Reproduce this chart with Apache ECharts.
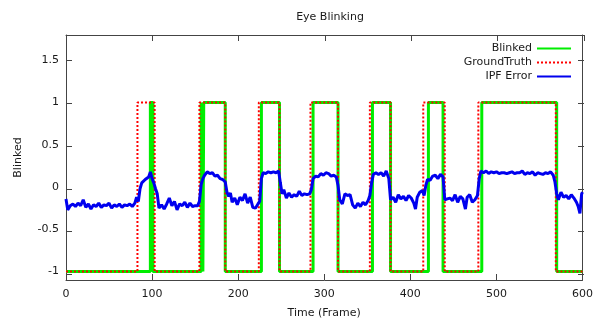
<!DOCTYPE html>
<html>
<head>
<meta charset="utf-8">
<script src="https://cdn.jsdelivr.net/npm/echarts@6/dist/echarts.min.js"></script>
<style>
html,body{margin:0;padding:0;background:#fff;}
#chart{width:596px;height:324px;}
</style>
</head>
<body>
<div id="chart"></div>
<script>
// Blinked (detector output) step transitions
var blinkedX = [0, 98, 101, 157, 159, 160, 185, 227, 248, 287, 316, 356, 377, 421, 438, 483, 570, 600];
var blinkedY = [-1, 1, -1, 1, -1, 1, -1, 1, -1, 1, -1, 1, -1, 1, -1, 1, -1, -1];
// GroundTruth step transitions
var truthX = [0, 83, 103, 155, 185, 224, 248, 284, 316, 353, 377, 415, 440, 479, 569, 600];
var truthY = [-1, 1, -1, 1, -1, 1, -1, 1, -1, 1, -1, 1, -1, 1, -1, -1];
// IPF Error
var ipfX = [0,2,5,8,11,14,17,20,23,26,29,32,35,38,41,44,47,50,53,56,59,62,65,68,71,74,77,80,
82,84,86,88,90,92,94,96,98,100,102,104,106,108,111,114,117,120,123,126,129,132,135,138,141,144,147,150,153,155,
157,159,161,164,167,170,173,176,179,182,185,187,189,191,193,196,199,202,205,208,211,214,217,220,223,225,
227,229,232,235,238,241,244,247,249,251,253,256,259,262,265,268,271,274,277,280,283,285,
287,290,293,296,299,302,305,308,311,314,316,318,321,324,327,330,333,336,339,342,345,348,351,353,
355,357,360,363,366,369,372,375,377,380,383,386,389,392,395,398,401,404,406,408,411,414,416,
418,420,423,426,429,432,435,438,440,443,446,449,452,455,458,461,464,466,469,472,475,478,
480,482,485,488,491,494,497,500,503,506,509,512,515,518,521,524,527,530,533,536,539,542,545,548,551,554,557,560,563,566,568,
570,572,575,578,581,584,587,590,593,595,597,599,600];
var ipfY = [-0.14,-0.27,-0.22,-0.20,-0.23,-0.19,-0.22,-0.15,-0.24,-0.20,-0.26,-0.21,-0.23,-0.19,-0.24,-0.21,-0.22,-0.19,-0.25,-0.21,-0.23,-0.20,-0.24,-0.21,-0.22,-0.20,-0.23,-0.19,
-0.12,-0.17,-0.02,0.05,0.04,0.09,0.08,0.12,0.18,0.10,0.05,-0.02,-0.08,-0.25,-0.21,-0.26,-0.20,-0.13,-0.22,-0.17,-0.27,-0.20,-0.22,-0.18,-0.24,-0.19,-0.23,-0.22,-0.22,-0.17,
0.03,0.10,0.14,0.18,0.16,0.17,0.13,0.14,0.10,0.09,0.06,-0.06,-0.11,-0.07,-0.18,-0.13,-0.21,-0.12,-0.16,-0.08,-0.19,-0.12,-0.24,-0.25,-0.20,-0.17,
0.10,0.17,0.16,0.18,0.17,0.18,0.17,0.19,0.05,-0.08,-0.03,-0.13,-0.07,-0.12,-0.09,-0.11,-0.05,-0.10,-0.08,-0.09,-0.08,-0.03,
0.10,0.13,0.12,0.16,0.14,0.17,0.16,0.13,0.14,0.12,0.02,-0.15,-0.20,-0.08,-0.10,-0.09,-0.21,-0.25,-0.19,-0.23,-0.18,-0.21,-0.16,-0.10,
0.05,0.15,0.17,0.15,0.17,0.13,0.19,0.10,-0.15,-0.12,-0.18,-0.09,-0.14,-0.11,-0.16,-0.10,-0.13,-0.19,-0.26,-0.12,-0.06,-0.04,-0.10,
0.02,0.09,0.08,0.13,0.14,0.10,0.15,0.12,-0.15,-0.14,-0.13,-0.16,-0.09,-0.18,-0.11,-0.14,-0.26,-0.12,-0.09,-0.18,-0.15,-0.10,
0.10,0.19,0.17,0.19,0.16,0.18,0.17,0.18,0.16,0.17,0.17,0.16,0.17,0.18,0.16,0.17,0.17,0.19,0.15,0.17,0.16,0.18,0.14,0.17,0.16,0.15,0.17,0.16,0.18,0.14,0.06,
-0.08,-0.15,-0.06,-0.12,-0.10,-0.14,-0.09,-0.13,-0.18,-0.23,-0.31,-0.08,-0.06];
var xTicks = [0, 100, 200, 300, 400, 500, 600];
var yTicks = [-1, -0.5, 0, 0.5, 1, 1.5];

function zip(xs, ys) { return xs.map(function (x, i) { return [x, ys[i]]; }); }

var FONT = 'DejaVu Sans';
var TXT = '#1a1a1a';
var AX = '#444';
var NONE = 'rgba(0,0,0,0)';
function frame() { return { show: true, onZero: false, lineStyle: { color: AX, width: 1 } }; }
function tick(inside) {
  return { show: true, inside: inside, length: 6, lineStyle: { color: AX, width: 1 } };
}
function hidden(g) { return { type: 'value', gridIndex: g, show: false, min: 0, max: 1 }; }
// y tick grids span exactly from y=-1 to y=1.5 within the main plot (range -1.1..1.8)
var PLOT_TOP = 35, PLOT_BOTTOM = 41, PLOT_H = 324 - 35 - 41;
var Y_MIN = -1.1, Y_MAX = 1.8;
var tickTop = PLOT_TOP + (Y_MAX - yTicks[yTicks.length - 1]) / (Y_MAX - Y_MIN) * PLOT_H;
var tickBottom = PLOT_BOTTOM + (yTicks[0] - Y_MIN) / (Y_MAX - Y_MIN) * PLOT_H;

var chart = echarts.init(document.getElementById('chart'), null, { renderer: 'canvas' });
chart.setOption({
  animation: false,
  backgroundColor: '#fff',
  textStyle: { fontFamily: FONT },
  title: {
    text: 'Eye Blinking', left: 325, top: 7, textAlign: 'center',
    textStyle: { fontFamily: FONT, fontSize: 11, fontWeight: 'normal', color: TXT }
  },
  grid: [
    { left: 66, right: 12, top: PLOT_TOP, bottom: PLOT_BOTTOM },
    { left: 66, right: 12, top: 20, height: 15 },
    { left: 584, width: 8, top: tickTop, bottom: tickBottom },
    { left: 66, width: 8, top: tickTop, bottom: tickBottom }
  ],
  legend: {
    orient: 'vertical', right: 24, top: 43, padding: 0, itemGap: 3,
    align: 'right', itemWidth: 34, itemHeight: 11,
    textStyle: { fontFamily: FONT, fontSize: 11, color: TXT },
    data: ['Blinked', 'GroundTruth', 'IPF Error']
  },
  xAxis: [{
    type: 'value', gridIndex: 0, min: 0, max: 600, interval: 100,
    name: 'Time (Frame)', nameLocation: 'middle', nameGap: 28,
    nameTextStyle: { fontFamily: FONT, fontSize: 11, color: TXT },
    axisLine: frame(), axisTick: tick(true),
    axisLabel: { margin: 9, fontFamily: FONT, fontSize: 11, color: TXT },
    splitLine: { show: false }
  }, {
    // top frame edge with mirrored ticks pointing down into the plot
    type: 'value', gridIndex: 1, min: 0, max: 600, interval: 100, position: 'bottom',
    axisLine: frame(), axisTick: tick(false),
    axisLabel: { show: false }, splitLine: { show: false }
  }, hidden(2), hidden(3)],
  yAxis: [{
    type: 'value', gridIndex: 0, min: Y_MIN, max: Y_MAX,
    name: 'Blinked', nameLocation: 'middle', nameGap: 42, nameRotate: 90,
    nameTextStyle: { fontFamily: FONT, fontSize: 11, color: TXT },
    axisLine: frame(), axisTick: { show: false },
    axisLabel: { margin: 7, fontFamily: FONT, fontSize: 11, color: TXT, customValues: yTicks },
    splitLine: { show: false }
  }, {
    // right frame edge
    type: 'value', gridIndex: 0, min: Y_MIN, max: Y_MAX, position: 'right',
    axisLine: frame(), axisTick: { show: false },
    axisLabel: { show: false }, splitLine: { show: false }
  }, hidden(1), {
    // right mirrored ticks pointing left into the plot
    type: 'value', gridIndex: 2, min: yTicks[0], max: yTicks[yTicks.length - 1], interval: 0.5, position: 'left',
    axisLine: { show: false, onZero: false }, axisTick: tick(false),
    axisLabel: { show: false }, splitLine: { show: false }
  }, {
    // left ticks pointing right into the plot
    type: 'value', gridIndex: 3, min: yTicks[0], max: yTicks[yTicks.length - 1], interval: 0.5, position: 'left',
    axisLine: { show: false, onZero: false }, axisTick: tick(true),
    axisLabel: { show: false }, splitLine: { show: false }
  }],
  series: [{
    name: 'Blinked', type: 'line', step: 'end', showSymbol: false, symbol: 'circle',
    xAxisIndex: 0, yAxisIndex: 0,
    data: zip(blinkedX, blinkedY), z: 2,
    lineStyle: { color: '#00ee00', width: 3 }, itemStyle: { color: NONE, borderWidth: 0 }
  }, {
    name: 'GroundTruth', type: 'line', step: 'end', showSymbol: false, symbol: 'circle',
    xAxisIndex: 0, yAxisIndex: 0,
    data: zip(truthX, truthY), z: 3,
    lineStyle: { color: '#ff0000', width: 2, type: [2, 2] }, itemStyle: { color: NONE, borderWidth: 0 }
  }, {
    name: 'IPF Error', type: 'line', showSymbol: false, symbol: 'circle',
    xAxisIndex: 0, yAxisIndex: 0,
    data: zip(ipfX, ipfY), z: 4,
    lineStyle: { color: '#0000ee', width: 3 }, itemStyle: { color: NONE, borderWidth: 0 }
  }]
});
</script>
</body>
</html>
